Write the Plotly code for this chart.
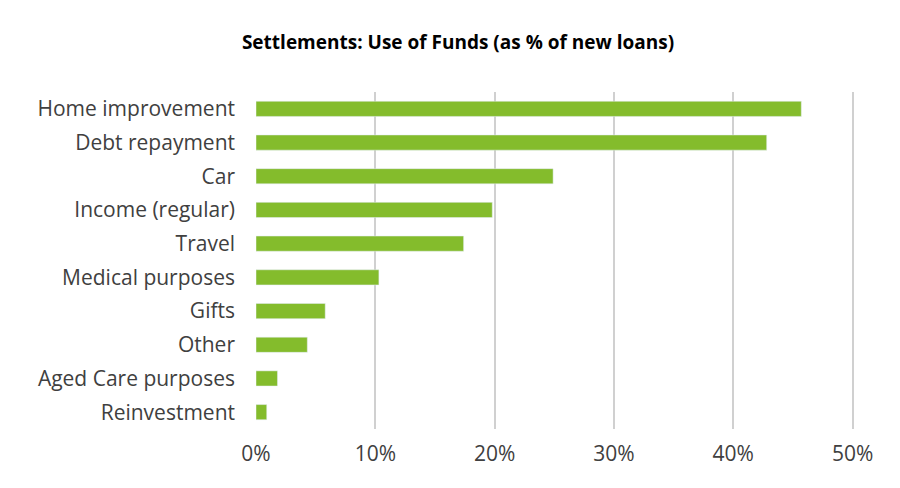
import plotly.graph_objects as go

categories = ["Home improvement", "Debt repayment", "Car", "Income (regular)", "Travel",
              "Medical purposes", "Gifts", "Other", "Aged Care purposes", "Reinvestment"]
values = [45.7, 42.8, 24.9, 19.8, 17.4, 10.3, 5.8, 4.3, 1.8, 0.9]

fig = go.Figure(go.Bar(
    x=values, y=categories, orientation="h",
    marker_color="#84BC2C", width=0.45,
))
fig.update_layout(
    width=900, height=488,
    paper_bgcolor="white", plot_bgcolor="white",
    margin=dict(l=248, r=53, t=84, b=67, autoexpand=False),
    title=dict(text="<b>Settlements: Use of Funds (as % of new loans)</b>",
               x=0.5, xref="container", y=0.93, yref="container", xanchor="center",
               yanchor="middle",
               font=dict(family="Open Sans", size=19, color="black")),
    font=dict(family="Open Sans", size=21, color="#404040"),
    showlegend=False,
)
fig.update_xaxes(range=[0, 50.2], dtick=10, ticksuffix="%", showgrid=True,
                 gridcolor="#D0D0D0", gridwidth=1.5, zeroline=False, ticks="",
                 ticklabelstandoff=10, automargin=False)
fig.update_yaxes(autorange="reversed", ticks="", ticklabelstandoff=20, showline=False,
                 automargin=False)
fig.write_html("out.html")
